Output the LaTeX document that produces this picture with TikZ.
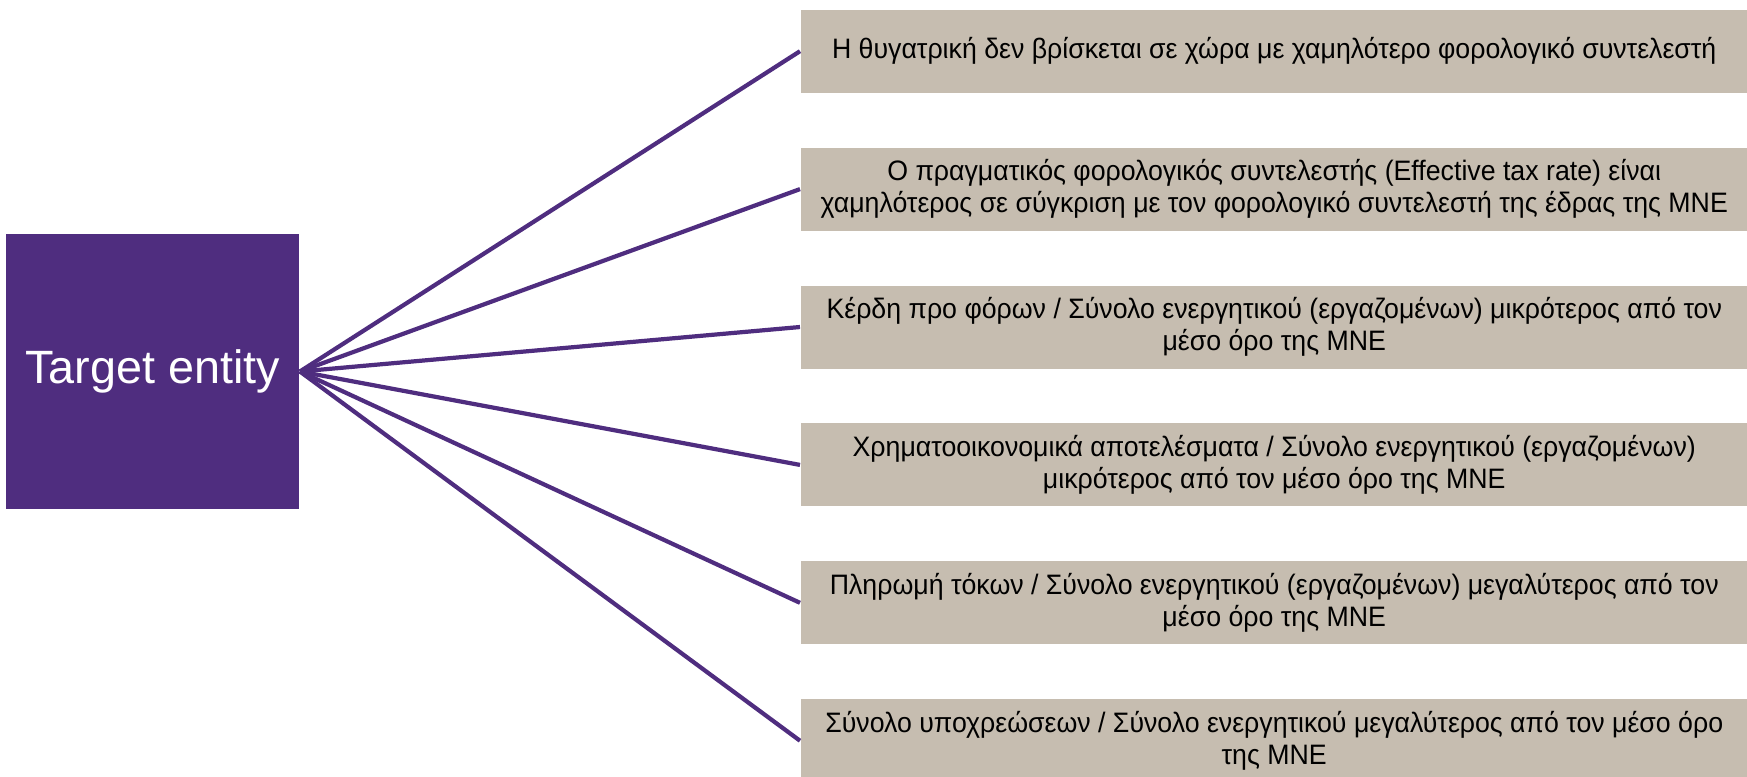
\documentclass[tikz,border=0pt]{standalone}
\usepackage{fontspec}
\setmainfont{Liberation Sans}
\newfontfamily\boxfont[FakeStretch=0.95]{Liberation Sans}
\usetikzlibrary{positioning}
\definecolor{gtpurple}{RGB}{79, 45, 127}
\definecolor{gtsand}{RGB}{198, 189, 176}

\begin{document}
\begin{tikzpicture}[
    node distance=0.535cm,
    entity/.style={rectangle, fill=gtpurple, text=white, minimum width=2.93cm, minimum height=2.75cm, inner sep=0pt, font=\fontsize{13.3}{15}\selectfont},
    testbox/.style={rectangle, fill=gtsand, text=black, minimum width=9.47cm, minimum height=0.83cm, inner sep=0pt, align=center, font=\boxfont\fontsize{8}{9.1}\selectfont},
    link/.style={line width=1.2pt, color=gtpurple}
]
\useasboundingbox (0,0) rectangle (17.47,-7.77);

\node[entity] (target) at (1.527,-3.715) {Target entity};

\node[testbox, anchor=north west] (location) at (8.00,-0.09) {Η θυγατρική δεν βρίσκεται σε χώρα με χαμηλότερο φορολογικό συντελεστή};
\node[testbox, below=of location] (etr) {Ο πραγματικός φορολογικός συντελεστής (Effective tax rate) είναι\\χαμηλότερος σε σύγκριση με τον φορολογικό συντελεστή της έδρας της ΜΝΕ};
\node[testbox, below=of etr] (profit) {Κέρδη προ φόρων / Σύνολο ενεργητικού (εργαζομένων) μικρότερος από τον\\μέσο όρο της ΜΝΕ};
\node[testbox, below=of profit] (finance) {Χρηματοοικονομικά αποτελέσματα / Σύνολο ενεργητικού (εργαζομένων)\\μικρότερος από τον μέσο όρο της ΜΝΕ};
\node[testbox, below=of finance] (interest) {Πληρωμή τόκων / Σύνολο ενεργητικού (εργαζομένων) μεγαλύτερος από τον\\μέσο όρο της ΜΝΕ};
\node[testbox, below=of interest] (liability) {Σύνολο υποχρεώσεων / Σύνολο ενεργητικού μεγαλύτερος από τον μέσο όρο\\της ΜΝΕ};

\foreach \t in {location, etr, profit, finance, interest, liability}
    \draw[link] (target.east) -- (\t.west);

\end{tikzpicture}
\end{document}
